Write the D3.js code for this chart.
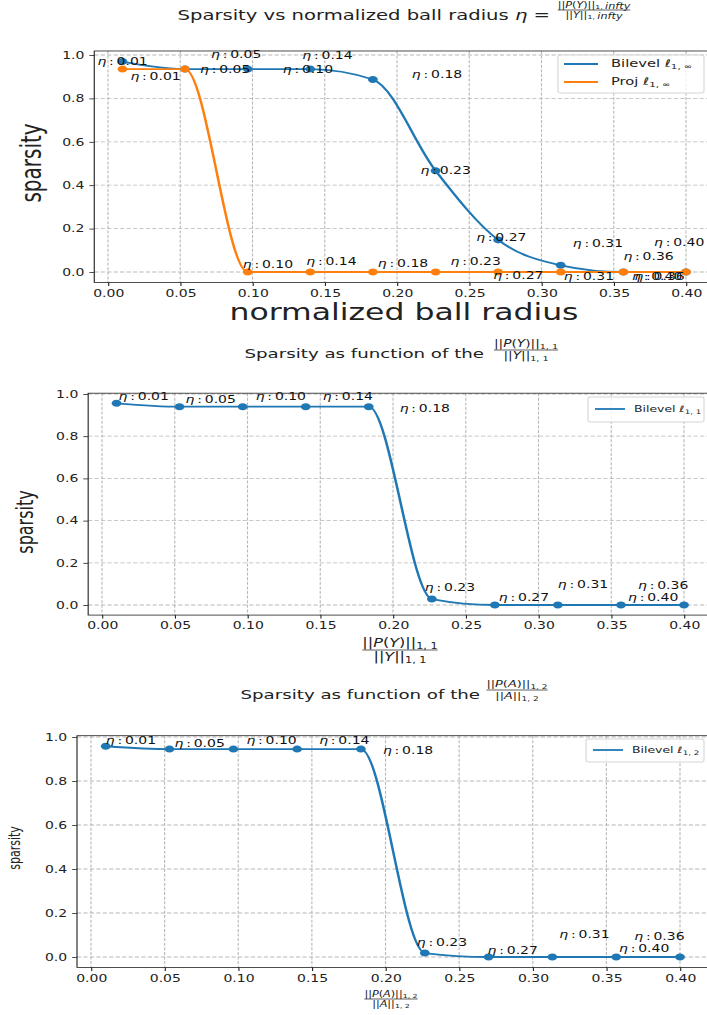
<!DOCTYPE html>
<html>
<head>
<meta charset="utf-8">
<script src="https://cdn.jsdelivr.net/npm/d3@7"></script>
<style>
  body { margin: 0; background: #fff; }
  svg { display: block; font-family: "DejaVu Sans", sans-serif; }
</style>
</head>
<body>
<svg id="chart" width="707" height="1015"></svg>
<script>
// ---- data ----
const eta = [0.01, 0.0533, 0.0967, 0.14, 0.1833, 0.2267, 0.27, 0.3133, 0.3567, 0.40];
const etaLabels = ["0.01", "0.05", "0.10", "0.14", "0.18", "0.23", "0.27", "0.31", "0.36", "0.40"];

const bilevelInf = [0.97, 0.935, 0.935, 0.935, 0.887, 0.467, 0.148, 0.031, 0.0, 0.0];
const projInf = [0.935, 0.935, 0.0, 0.0, 0.0, 0.0, 0.0, 0.0, 0.0, 0.0];
const bilevel11 = [0.956, 0.94, 0.94, 0.94, 0.94, 0.028, 0.0, 0.0, 0.0, 0.0];
const bilevel12 = [0.958, 0.945, 0.945, 0.945, 0.945, 0.018, 0.0, 0.0, 0.0, 0.0];

const xTicks = [0, 0.05, 0.10, 0.15, 0.20, 0.25, 0.30, 0.35, 0.40];
const yTicks = [0, 0.2, 0.4, 0.6, 0.8, 1.0];

// where each eta annotation sits relative to its point (picture px: left edge, middle)
const offP1Blue = [[-25, 0], [26, -15], [35, 0], [-8, -14], [39, -5], [-15, 0], [-22, -2], [12, -22], [0, -15], [-32, -29]];
const offP1Orange = [[8, 7], [15, 0], [-5, -7], [-4, -10], [5, -8], [15, -10], [-5, 4], [3, 5], [11, 5], [-54, 5]];
const offP2 = [[2, -7], [6, -7], [13, -10], [17, -10], [31, 2], [-7, -12], [4, -7], [0, -20], [17, -19], [-56, -7]];
const offP3 = [[0, -6], [5, -6], [13, -9], [22, -9], [22, 1], [-8, -11], [-1, -6], [7, -22], [18, -20], [-61, -8]];

const blue = "#1f77b4";
const orange = "#ff7f0e";
const ink = "#222";

// the whole figure is stretched sideways, so draw in a narrower space and scale it
const SX = 1.4;
const svg = d3.select("#chart");
const root = svg.append("g").attr("transform", `scale(${SX},1)`);

// parts: [text, italic?, subscript?]
function addParts(text, parts) {
  parts.forEach(([t, it, sub]) => {
    const ts = text.append("tspan").text(t);
    if (it) ts.attr("font-style", "italic");
    if (sub) ts.attr("font-size", "0.7em").attr("dy", "0.3em");
  });
  return text;
}

function fraction(g, cx, cy, size, num, den) {
  const gg = g.append("g").attr("font-size", size).attr("fill", ink);
  const t1 = addParts(gg.append("text").attr("x", cx / SX).attr("y", cy - size * 0.3)
    .attr("text-anchor", "middle"), num);
  const t2 = addParts(gg.append("text").attr("x", cx / SX).attr("y", cy + size * 0.95)
    .attr("text-anchor", "middle"), den);
  const w = Math.max(t1.node().getComputedTextLength(), t2.node().getComputedTextLength());
  gg.append("line")
    .attr("x1", cx / SX - w / 2).attr("x2", cx / SX + w / 2)
    .attr("y1", cy).attr("y2", cy)
    .attr("stroke", ink).attr("stroke-width", 0.6);
}

function panel(cfg) {
  const g = root.append("g");

  const allVals = cfg.series.flatMap((s) => s.values);
  const xPad = 0.05 * (d3.max(eta) - d3.min(eta));
  const xDom = [d3.min(eta) - xPad, d3.max(eta) + xPad];
  const [ylo, yhi] = d3.extent(allVals);
  const yPad = 0.05 * (yhi - ylo);
  const yDom = [ylo - yPad, yhi + yPad];

  const kx = (cfg.x40 - cfg.x0) / 0.4;
  const ky = cfg.y0 - cfg.y1;
  const x = d3.scaleLinear().domain(xDom)
    .range([(cfg.x0 + kx * xDom[0]) / SX, (cfg.x0 + kx * xDom[1]) / SX]);
  const y = d3.scaleLinear().domain(yDom)
    .range([cfg.y0 - ky * yDom[0], cfg.y0 - ky * yDom[1]]);

  const [left, right] = x.range();
  const [bottom, top] = y.range();

  // grid
  const grid = g.append("g")
    .attr("stroke", "#b8b8b8")
    .attr("stroke-width", 0.8)
    .attr("stroke-dasharray", "3,1.6");
  grid.selectAll("line.gx").data(xTicks).join("line")
    .attr("x1", (d) => x(d)).attr("x2", (d) => x(d))
    .attr("y1", top).attr("y2", bottom);
  grid.selectAll("line.gy").data(yTicks).join("line")
    .attr("x1", left).attr("x2", right)
    .attr("y1", (d) => y(d)).attr("y2", (d) => y(d));

  // axes
  g.append("g")
    .attr("transform", `translate(0,${bottom})`)
    .call(d3.axisBottom(x).tickValues(xTicks).tickFormat(d3.format(".2f"))
      .tickSize(3.5).tickPadding(3.5))
    .call((a) => a.select(".domain").remove())
    .attr("font-family", "DejaVu Sans").attr("font-size", 10).attr("color", ink)
    .selectAll("line").attr("stroke-width", 0.8);
  g.append("g")
    .attr("transform", `translate(${left},0)`)
    .call(d3.axisLeft(y).tickValues(yTicks).tickFormat(d3.format(".1f"))
      .tickSize(3.5).tickPadding(3.5))
    .call((a) => a.select(".domain").remove())
    .attr("font-family", "DejaVu Sans").attr("font-size", 10).attr("color", ink)
    .selectAll("line").attr("stroke-width", 0.8);

  // series
  const line = d3.line()
    .x((d, i) => x(eta[i]))
    .y((d) => y(d))
    .curve(d3.curveMonotoneX);

  cfg.series.forEach((s) => {
    g.append("path")
      .datum(s.values)
      .attr("d", line)
      .attr("fill", "none")
      .attr("stroke", s.color)
      .attr("stroke-width", 1.8);
    g.append("g").selectAll("circle").data(s.values).join("circle")
      .attr("cx", (d, i) => x(eta[i]))
      .attr("cy", (d) => y(d))
      .attr("r", 3.5)
      .attr("fill", s.color);
  });

  // annotations on top
  cfg.series.forEach((s) => {
    const ann = g.append("g").attr("font-size", 10).attr("fill", "#111");
    s.values.forEach((v, i) => {
      const [dx, dy] = s.offsets[i];
      const t = ann.append("text")
        .attr("x", x(eta[i]) + dx / SX)
        .attr("y", y(v) + dy)
        .attr("dy", "0.35em");
      t.append("tspan").attr("font-style", "italic").text("η");
      t.append("tspan").text("\u2009:\u2009" + etaLabels[i]);
    });
  });

  // frame
  g.append("rect")
    .attr("x", left).attr("y", top)
    .attr("width", right - left).attr("height", bottom - top)
    .attr("fill", "none").attr("stroke", ink).attr("stroke-width", 0.8);

  // legend
  const lg = cfg.legend;
  g.append("rect")
    .attr("x", lg.box[0] / SX).attr("y", lg.box[1])
    .attr("width", lg.box[2] / SX).attr("height", lg.box[3])
    .attr("rx", 2).attr("fill", "#fff").attr("fill-opacity", 0.8)
    .attr("stroke", "#d6d6d6").attr("stroke-width", 0.8);
  cfg.series.forEach((s, i) => {
    const ly = lg.rows[i];
    g.append("line")
      .attr("x1", lg.line[0] / SX).attr("x2", lg.line[1] / SX)
      .attr("y1", ly).attr("y2", ly)
      .attr("stroke", s.color).attr("stroke-width", 1.8);
    addParts(g.append("text")
      .attr("x", lg.text / SX).attr("y", ly).attr("dy", "0.3em")
      .attr("font-size", lg.size).attr("fill", ink), s.name);
  });

  // title
  addParts(g.append("text")
    .attr("x", cfg.title.end / SX).attr("y", cfg.title.y)
    .attr("text-anchor", "end").attr("font-size", cfg.title.size).attr("fill", ink), cfg.title.parts);
  fraction(g, cfg.title.frac[0], cfg.title.frac[1], cfg.title.frac[2], cfg.title.num, cfg.title.den);

  // y label
  g.append("text")
    .attr("transform", `translate(${cfg.ylab.x / SX},${cfg.ylab.y}) rotate(-90)`)
    .attr("text-anchor", "middle").attr("dy", "0.35em")
    .attr("font-size", cfg.ylab.size).attr("fill", ink)
    .text("sparsity");

  // x label
  if (cfg.xlab.text) {
    g.append("text")
      .attr("x", cfg.xlab.x / SX).attr("y", cfg.xlab.y)
      .attr("text-anchor", "middle").attr("font-size", cfg.xlab.size).attr("fill", ink)
      .text(cfg.xlab.text);
  } else {
    fraction(g, cfg.xlab.x, cfg.xlab.y, cfg.xlab.size, cfg.xlab.num, cfg.xlab.den);
  }
}

const numY = (sub) => [["||"], ["P", true], ["("], ["Y", true], [")||"], [sub, false, true]];
const denY = (sub) => [["||"], ["Y", true], ["||"], [sub, false, true]];
const numA = [["||"], ["P", true], ["("], ["A", true], [")||"], ["1, 2", false, true]];
const denA = [["||"], ["A", true], ["||"], ["1, 2", false, true]];

panel({
  x0: 108, x40: 686, y0: 272, y1: 55,
  series: [
    { values: bilevelInf, color: blue, offsets: offP1Blue,
      name: [["Bilevel "], ["ℓ", true], ["1, ∞", false, true]] },
    { values: projInf, color: orange, offsets: offP1Orange,
      name: [["Proj "], ["ℓ", true], ["1, ∞", false, true]] }
  ],
  legend: { box: [558, 55, 146, 38], rows: [64, 82], line: [564, 598], text: 611, size: 10.5 },
  title: {
    end: 550, y: 20, size: 14,
    parts: [["Sparsity vs normalized ball radius "], ["η", true], [" = "]],
    frac: [594, 10, 8],
    num: [["||"], ["P", true], ["("], ["Y", true], [")||"], ["1, ", false, true], ["infty", true]],
    den: [["||"], ["Y", true], ["||"], ["1, ", false, true], ["infty", true]]
  },
  ylab: { x: 31, y: 163, size: 20 },
  xlab: { text: "normalized ball radius", x: 404, y: 320, size: 22.5 }
});

panel({
  x0: 102, x40: 684, y0: 605, y1: 394,
  series: [
    { values: bilevel11, color: blue, offsets: offP2,
      name: [["Bilevel "], ["ℓ", true], ["1, 1", false, true]] }
  ],
  legend: { box: [588, 397, 116, 25], rows: [409], line: [595, 625], text: 634, size: 8.9 },
  title: {
    end: 484, y: 358, size: 13,
    parts: [["Sparsity as function of the"]],
    frac: [526, 350, 9.8],
    num: numY("1, 1"), den: denY("1, 1")
  },
  ylab: { x: 25, y: 522, size: 16 },
  xlab: { x: 400, y: 650, size: 11.5, num: numY("1, 1"), den: denY("1, 1") }
});

panel({
  x0: 91, x40: 680, y0: 957, y1: 737,
  series: [
    { values: bilevel12, color: blue, offsets: offP3,
      name: [["Bilevel "], ["ℓ", true], ["1, 2", false, true]] }
  ],
  legend: { box: [586, 739, 118, 23], rows: [750], line: [593, 623], text: 632, size: 8.9 },
  title: {
    end: 480, y: 699, size: 13,
    parts: [["Sparsity as function of the"]],
    frac: [517, 690, 9.2],
    num: numA, den: denA
  },
  ylab: { x: 15, y: 848, size: 11 },
  xlab: { x: 391, y: 999, size: 8, num: numA, den: denA }
});
</script>
</body>
</html>
